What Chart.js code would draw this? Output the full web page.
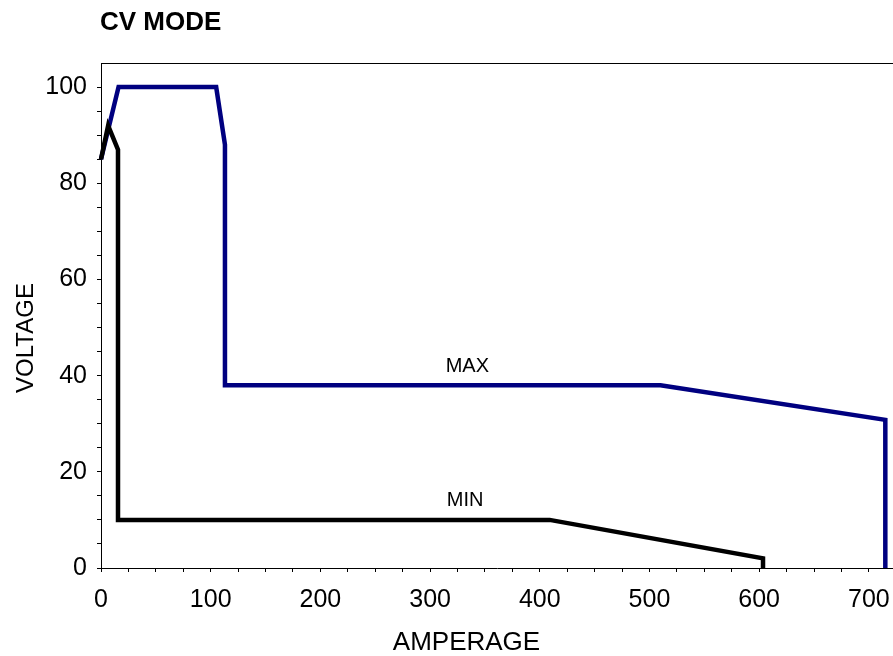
<!DOCTYPE html>
<html>
<head>
<meta charset="utf-8">
<script src="https://cdn.jsdelivr.net/npm/chart.js@4/dist/chart.umd.min.js"></script>
<style>
html,body{margin:0;padding:0;background:#fff;}
canvas{display:block;}
</style>
</head>
<body>
<canvas id="c" width="893" height="656"></canvas>
<script>
// Data
const ampMax  = [0, 16, 105, 113, 113, 510, 715, 715];
const voltMax = [85, 100, 100, 88, 38, 38, 30.8, 0];
const ampMin  = [0, 6.5, 15.5, 15.5, 409, 603.5, 603.5];
const voltMin = [85, 92, 87, 10, 10, 2, 0];

const xTickValues = [0,25,50,75,100,125,150,175,200,225,250,275,300,325,350,375,400,425,450,475,500,525,550,575,600,625,650,675,700];
const xLabelValues = [0,100,200,300,400,500,600,700];
const yTickValues = [0,5,10,15,20,25,30,35,40,45,50,55,60,65,70,75,80,85,90,95,100];
const yLabelValues = [0,20,40,60,80,100];

const chartTitle = 'CV MODE';
const xTitle = 'AMPERAGE';
const yTitle = 'VOLTAGE';
const curveLabels = [
  {text: 'MAX', x: 334, y: 41.8},
  {text: 'MIN', x: 332, y: 14.1}
];

const FONT = "'Liberation Sans', Arial, sans-serif";

function pts(xs, ys){ return xs.map((x,i)=>({x:x, y:ys[i]})); }

const extras = {
  id: 'extras',
  afterDraw(chart){
    const ctx = chart.ctx;
    const a = chart.chartArea;
    const xs = chart.scales.x, ys = chart.scales.y;
    ctx.save();
    // top border
    ctx.strokeStyle = '#000';
    ctx.lineWidth = 1;
    ctx.beginPath();
    ctx.moveTo(a.left, a.top + 0.5);
    ctx.lineTo(a.right, a.top + 0.5);
    ctx.stroke();
    ctx.fillStyle = '#000';
    // title
    ctx.font = 'bold 26px ' + FONT;
    ctx.textAlign = 'left';
    ctx.textBaseline = 'middle';
    ctx.fillText(chartTitle, 100, 23);
    // axis titles
    ctx.font = '26px ' + FONT;
    ctx.textAlign = 'center';
    ctx.fillText(xTitle, 466.5, 643);
    ctx.save();
    ctx.translate(26, 338);
    ctx.rotate(-Math.PI / 2);
    ctx.font = '24px ' + FONT;
    ctx.fillText(yTitle, 0, 0);
    ctx.restore();
    // curve labels
    ctx.font = '20px ' + FONT;
    ctx.textAlign = 'center';
    curveLabels.forEach(l => {
      ctx.fillText(l.text, xs.getPixelForValue(l.x), ys.getPixelForValue(l.y));
    });
    ctx.restore();
  }
};

new Chart(document.getElementById('c'), {
  type: 'scatter',
  data: {
    datasets: [
      {
        label: 'MIN',
        data: pts(ampMin, voltMin),
        showLine: true,
        borderColor: '#000000',
        backgroundColor: '#000000',
        borderWidth: 4.5,
        pointRadius: 0,
        borderJoinStyle: 'miter',
        borderCapStyle: 'butt',
        clip: false,
        order: 0
      },
      {
        label: 'MAX',
        data: pts(ampMax, voltMax),
        showLine: true,
        borderColor: '#000080',
        backgroundColor: '#000080',
        borderWidth: 4.5,
        pointRadius: 0,
        borderJoinStyle: 'miter',
        borderCapStyle: 'butt',
        clip: false,
        order: 1
      }
    ]
  },
  options: {
    responsive: false,
    animation: false,
    layout: { padding: { top: 63, right: 0, bottom: 0, left: 0 } },
    plugins: {
      legend: { display: false },
      tooltip: { enabled: false },
      title: { display: false }
    },
    scales: {
      x: {
        type: 'linear',
        min: 0,
        max: 722,
        afterFit(s){ s.height = 88; s.paddingLeft = 0; s.paddingRight = 0; },
        afterBuildTicks(s){ s.ticks = xTickValues.map(v => ({value: v})); },
        ticks: {
          autoSkip: false,
          maxRotation: 0,
          padding: 13,
          color: '#000',
          font: { family: FONT, size: 25 },
          callback: v => xLabelValues.includes(v) ? String(v) : ''
        },
        grid: {
          drawOnChartArea: false,
          drawTicks: true,
          tickLength: 4,
          tickColor: '#000'
        },
        border: { display: true, color: '#000', width: 1 },
        title: { display: false }
      },
      y: {
        type: 'linear',
        min: 0,
        max: 105,
        afterFit(s){ s.width = 101; },
        afterBuildTicks(s){ s.ticks = yTickValues.map(v => ({value: v})); },
        ticks: {
          autoSkip: false,
          padding: 10,
          color: '#000',
          font: { family: FONT, size: 25 },
          callback: v => yLabelValues.includes(v) ? String(v) : ''
        },
        grid: {
          drawOnChartArea: false,
          drawTicks: true,
          tickLength: 4,
          tickColor: '#000'
        },
        border: { display: true, color: '#000', width: 1 },
        title: { display: false }
      }
    }
  },
  plugins: [extras]
});
</script>
</body>
</html>
